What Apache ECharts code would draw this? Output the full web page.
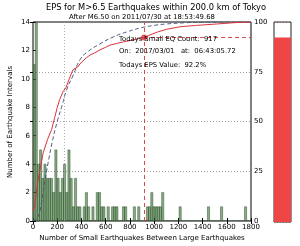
<!DOCTYPE html>
<html><head><meta charset="utf-8">
<script src="https://cdn.jsdelivr.net/npm/echarts@6/dist/echarts.min.js"></script>
<style>html,body{margin:0;padding:0;background:#fff}#c{width:300px;height:246px}</style>
</head><body><div id="c"></div>
<script>
const titleText = 'EPS for M>6.5 Earthquakes within 200.0 km of Tokyo';
const subtitleText = 'After M6.50 on 2011/07/30 at 18:53:49.68';
const xLabel = 'Number of Small Earthquakes Between Large Earthquakes';
const yLabel = 'Number of Earthquake Intervals';
const binWidth = 18;
const histCounts = [11,15,4,5,3,4,3,3,3,2, 5,3,2,3,4,2,5,3,1,3,
  1,1,0,1,2,1,0,1,0,2, 2,1,1,0,1,0,1,1,1,0, 0,1,1,0,0,0,1,0,1,0,
  0,0,1,1,2,1,1,1,1,2, 0,0,0,0,0,0,0,1,0,0, 0,0,0,0,0,0,0,0,0,0,
  1,0,0,0,0,0,1,0,0,0, 0,0,0,0,0,0,0,1,0,0];
const empX =   [0,14,40,83,120,154,179,200,220,248,272,303,330,372,388,440,471,510,553,600,636,690,746,810,884,917,966,1030,1100,1214,1350,1517,1650,1760,1800];
const empPct = [5,8,20,34,41,46,52,57,61,65,67,72,76,77.5,79,82,83.4,84.5,86,87.3,88.4,89.2,90,90.8,91.8,92.2,93.5,95,96.3,97.6,98.3,99,99.6,100,100];
const fitX =   [0,40,70,90,124,160,200,240,278,330,388,450,553,663,774,900,1000,1100,1250,1400,1800];
const fitPct = [0,2,9,17,29,40,50,58,66,73,81,85,89,92.5,95,97.2,98.3,99,99.6,99.9,100];
const todayCount = 917;
const todayEps = 92.2;
const refLineX = 262;
const annot1 = 'Todays Small EQ Count:  917';
const annot2 = 'On:  2017/03/01   at:  06:43:05.72';
const annot3 = 'Todays EPS Value:  92.2%';

const F = 'DejaVu Sans';
const histData = histCounts.map((c, i) => [i * binWidth, (i + 1) * binWidth, c]);
const chart = echarts.init(document.getElementById('c'), null, {renderer: 'canvas'});
chart.setOption({
  animation: false,
  grid: [
    {left: 33, right: 49, top: 22, bottom: 25, show: true, borderColor: '#000', borderWidth: 1, backgroundColor: 'transparent'},
    {left: 274, width: 17, top: 22, bottom: 24, show: true, borderColor: '#222', borderWidth: 1}
  ],
  xAxis: [
    {type: 'value', gridIndex: 0, min: 0, max: 1800, interval: 200, position: 'bottom',
      axisLine: {show: false}, axisTick: {inside: true, length: 3, lineStyle: {color: '#000'}},
      axisLabel: {fontFamily: F, fontSize: 7, color: '#000', margin: 3, formatter: v => String(v)}, splitLine: {show: false}},
    {type: 'value', gridIndex: 0, min: 0, max: 1800, interval: 200, position: 'top',
      axisLine: {show: false}, axisTick: {inside: true, length: 3, lineStyle: {color: '#000'}},
      axisLabel: {show: false}, splitLine: {show: false}},
    {type: 'category', gridIndex: 1, data: ['g'], show: false}
  ],
  yAxis: [
    {type: 'value', gridIndex: 0, min: 0, max: 14, interval: 2, position: 'left',
      axisLine: {show: false}, axisTick: {inside: true, length: 3, lineStyle: {color: '#000'}},
      axisLabel: {fontFamily: F, fontSize: 7, color: '#000', margin: 3}, splitLine: {show: false}},
    {type: 'value', gridIndex: 0, min: 0, max: 100, interval: 25, position: 'right',
      axisLine: {show: false}, axisTick: {inside: true, length: 3, lineStyle: {color: '#000'}},
      axisLabel: {fontFamily: F, fontSize: 7, color: '#000', margin: 3},
      splitLine: {show: true, lineStyle: {color: '#888', type: [1, 2], width: 0.8}}},
    {type: 'value', gridIndex: 1, min: 0, max: 100, interval: 25, show: true,
      axisLine: {show: false}, axisTick: {show: false}, axisLabel: {show: false},
      splitLine: {show: true, lineStyle: {color: 'rgba(150,0,0,0.35)', type: [1, 2]}}}
  ],
  series: [
    {type: 'custom', xAxisIndex: 0, yAxisIndex: 0, data: histData, clip: true, z: 2,
      renderItem: function (params, api) {
        const p0 = api.coord([api.value(0), 0]);
        const p1 = api.coord([api.value(1), api.value(2)]);
        return {type: 'rect', shape: {x: p0[0], y: p1[1], width: p1[0] - p0[0], height: p0[1] - p1[1]},
          style: {fill: 'rgba(70,125,65,0.65)', stroke: 'rgba(25,60,25,0.8)', lineWidth: 0.5}};
      },
      markLine: {silent: true, symbol: 'none', label: {show: false},
        lineStyle: {color: '#999', type: [1, 2], width: 0.8},
        data: [{xAxis: refLineX}]}
    },
    {type: 'line', xAxisIndex: 0, yAxisIndex: 1, data: fitX.map((x, i) => [x, fitPct[i]]),
      showSymbol: false, smooth: true, z: 4,
      lineStyle: {color: '#4a5a80', width: 1, type: [4, 2.5]}},
    {type: 'line', xAxisIndex: 0, yAxisIndex: 1, data: empX.map((x, i) => [x, empPct[i]]),
      showSymbol: false, z: 5,
      lineStyle: {color: '#d8333b', width: 1},
      markLine: {silent: true, symbol: 'none', label: {show: false},
        lineStyle: {color: '#d8333b', type: [4, 3], width: 0.9},
        data: [{xAxis: todayCount}, [{coord: [todayCount, todayEps]}, {coord: [1800, todayEps]}]]}
    },
    {type: 'scatter', xAxisIndex: 0, yAxisIndex: 1, data: [[todayCount, todayEps]], symbolSize: 6, z: 6,
      itemStyle: {color: '#d8333b'}},
    {type: 'bar', xAxisIndex: 2, yAxisIndex: 2, data: [todayEps], barWidth: '100%',
      itemStyle: {color: '#ee4545'}, z: 1}
  ],
  graphic: [
    {type: 'text', x: 156, y: 8, style: {text: titleText, font: '8.3px "DejaVu Sans"', fill: '#000', textAlign: 'center', textVerticalAlign: 'middle'}},
    {type: 'text', x: 142, y: 17, style: {text: subtitleText, font: '6.9px "DejaVu Sans"', fill: '#000', textAlign: 'center', textVerticalAlign: 'middle'}},
    {type: 'text', x: 142, y: 238, style: {text: xLabel, font: '7px "DejaVu Sans"', fill: '#000', textAlign: 'center', textVerticalAlign: 'middle'}},
    {type: 'text', x: 10, y: 122, rotation: Math.PI / 2, style: {text: yLabel, font: '7px "DejaVu Sans"', fill: '#000', textAlign: 'center', textVerticalAlign: 'middle'}},
    {type: 'text', x: 119, y: 39, z: 10, style: {text: annot1, font: '6.8px "DejaVu Sans"', fill: '#000', textAlign: 'left', textVerticalAlign: 'middle'}},
    {type: 'text', x: 119, y: 51, z: 10, style: {text: annot2, font: '6.8px "DejaVu Sans"', fill: '#000', textAlign: 'left', textVerticalAlign: 'middle'}},
    {type: 'text', x: 119, y: 65, z: 10, style: {text: annot3, font: '6.8px "DejaVu Sans"', fill: '#000', textAlign: 'left', textVerticalAlign: 'middle'}}
  ]
});
</script></body></html>
